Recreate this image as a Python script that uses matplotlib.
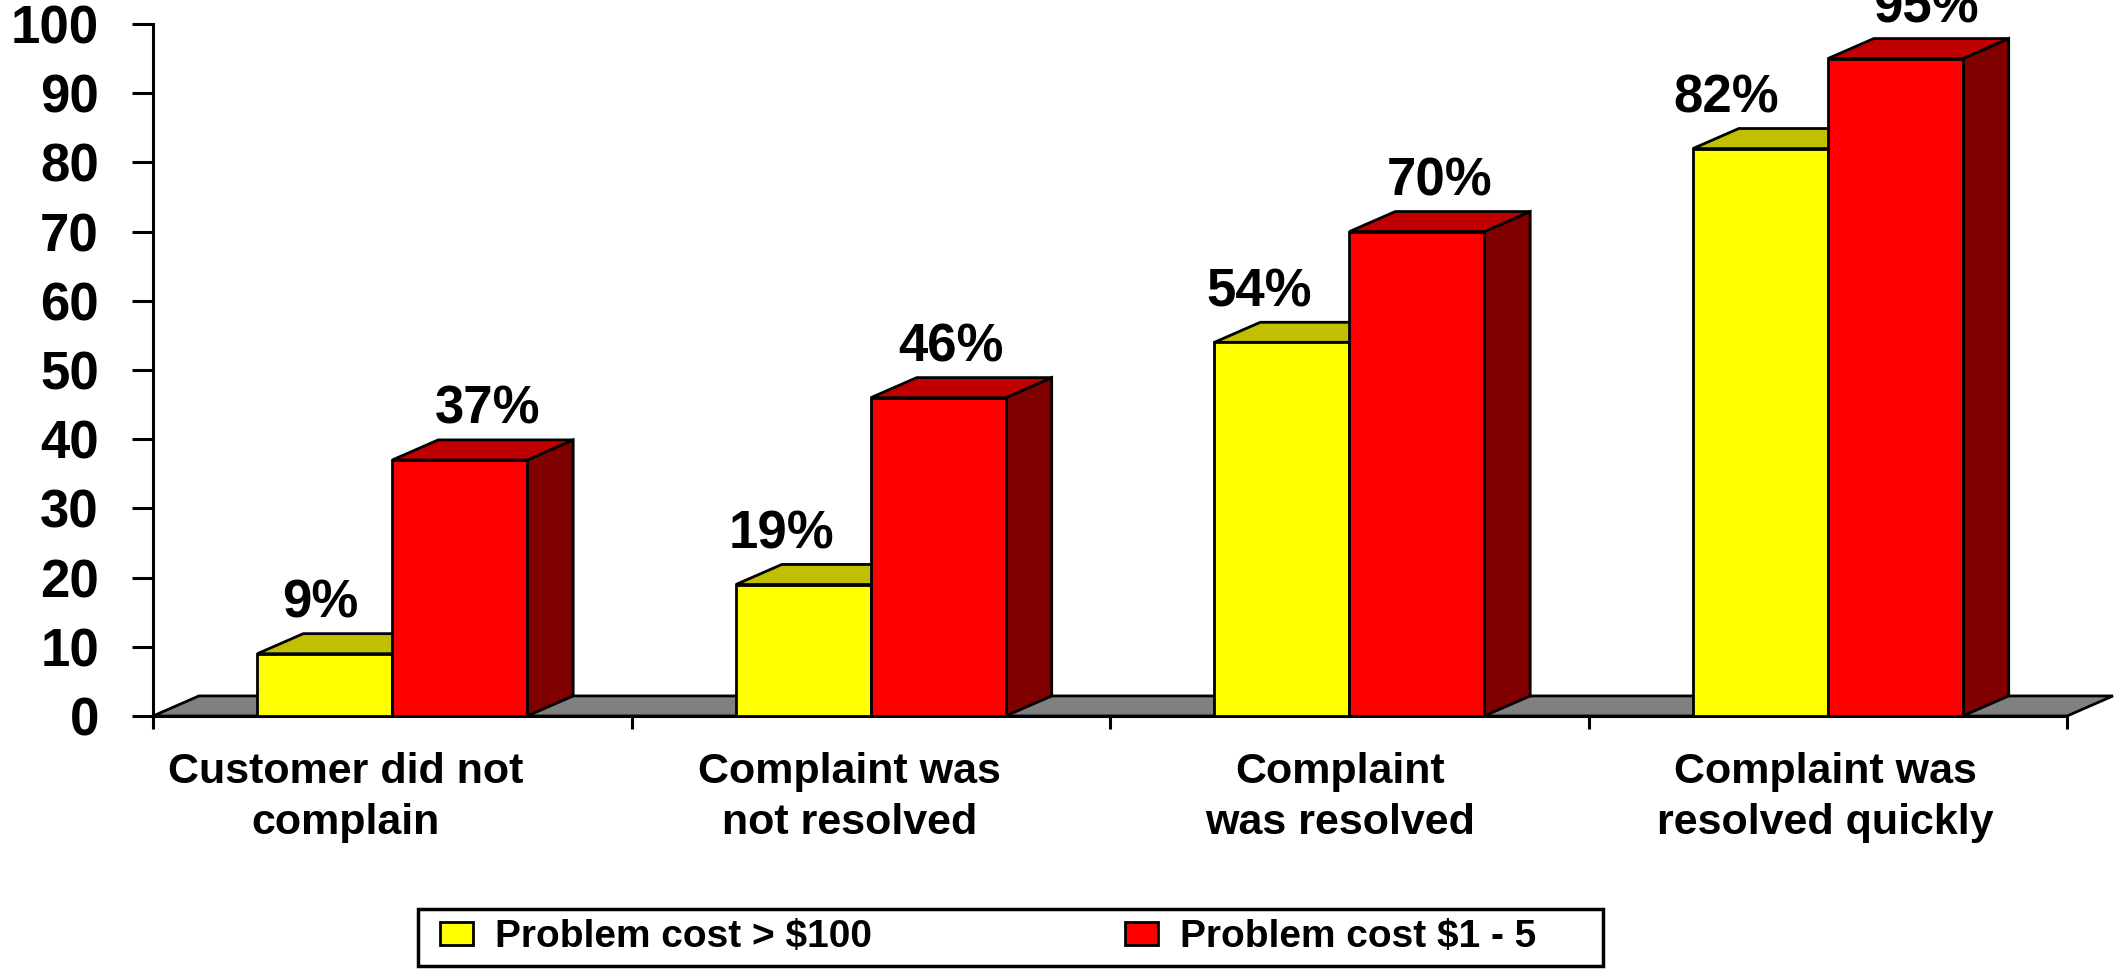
# 3d-looking grouped bars: complaint resolution vs problem cost

import matplotlib.pyplot as plt
from matplotlib.patches import Polygon, Rectangle, Patch
import numpy as np

plt.rcParams['font.family'] = ['Liberation Sans', 'DejaVu Sans']
plt.rcParams['font.weight'] = 'bold'

categories = ['Customer did not\ncomplain', 'Complaint was\nnot resolved',
              'Complaint\nwas resolved', 'Complaint was\nresolved quickly']
cost_high = [9, 19, 54, 82]     # Problem cost > $100
cost_low = [37, 46, 70, 95]     # Problem cost $1 - 5
series_names = ['Problem cost > $100', 'Problem cost $1 - 5']

# front, top, side colours
yellow = ('#FFFF00', '#C0C000', '#808000')
red = ('#FF0000', '#C00000', '#800000')

W = 0.282            # bar width (category units)
DX, DY = 0.096, 2.9  # depth offset
# the original's labels are not quite centred under the groups
cat_shift = [-0.098, -0.045, -0.02, -0.005]
lab_dx_high = [-28, -45, -46, -57]   # pixels
lab_dx_low = [5, -10, 0, 8]


def draw_box(ax, x0, h, cols):
    front, top, side = cols
    kw = dict(edgecolor='black', linewidth=2, clip_on=False, zorder=3,
              joinstyle='miter')
    ax.add_patch(Polygon([(x0 + W, 0), (x0 + W + DX, DY),
                          (x0 + W + DX, h + DY), (x0 + W, h)],
                         facecolor=side, **kw))
    ax.add_patch(Polygon([(x0, h), (x0 + W, h), (x0 + W + DX, h + DY),
                          (x0 + DX, h + DY)], facecolor=top, **kw))
    ax.add_patch(Rectangle((x0, 0), W, h, facecolor=front, **kw))


fig = plt.figure(figsize=(21.14, 9.69), dpi=100, facecolor='w')
ax = fig.add_axes([0.0724, 0.2611, 0.9054, 0.7141])
ax.set_xlim(-0.5, 3.5)
ax.set_ylim(0, 100)

# floor
ax.add_patch(Polygon([(-0.5, 0), (3.5, 0), (3.5 + DX, DY), (-0.5 + DX, DY)],
                     facecolor='#808080', edgecolor='black', linewidth=2,
                     clip_on=False, zorder=1))

x = np.arange(len(categories))
for i in x:
    draw_box(ax, i - W, cost_high[i], yellow)
    draw_box(ax, i, cost_low[i], red)
    ax.annotate(f'{cost_high[i]}%', (i - W / 2 + DX / 2, cost_high[i] + DY),
                xytext=(lab_dx_high[i], 30), textcoords='offset pixels',
                ha='center', va='center', fontsize=38, annotation_clip=False)
    ax.annotate(f'{cost_low[i]}%', (i + W / 2 + DX / 2, cost_low[i] + DY),
                xytext=(lab_dx_low[i], 30), textcoords='offset pixels',
                ha='center', va='center', fontsize=38, annotation_clip=False)

for s in ['top', 'right']:
    ax.spines[s].set_visible(False)
for s in ['left', 'bottom']:
    ax.spines[s].set_linewidth(2.2)

ax.set_yticks(np.arange(0, 101, 10))
ax.tick_params(axis='y', length=15, width=2.2, pad=24, labelsize=38)
ax.set_xticks(np.arange(-0.5, 3.6, 1.0))
ax.set_xticklabels([])
ax.tick_params(axis='x', which='major', length=9, width=2.2)
ax.set_xticks(x + np.array(cat_shift), categories, minor=True)
ax.tick_params(axis='x', which='minor', length=0, pad=26, labelsize=31)
for t in ax.get_xticklabels(minor=True):
    t.set_linespacing(1.35)

handles = [Patch(facecolor=yellow[0], edgecolor='black', linewidth=2),
           Patch(facecolor=red[0], edgecolor='black', linewidth=2)]
leg = fig.legend(handles, series_names, ncol=2, loc='lower left',
                 bbox_to_anchor=(430 / 2114, 4 / 969), borderaxespad=0,
                 fontsize=28, handlelength=0.85, handleheight=0.51,
                 handletextpad=0.57, columnspacing=6.5, borderpad=0.25,
                 frameon=False)
# legend box, a bit wider than the entries as in the original
fig.patches.append(Rectangle((418 / 2114, 3 / 969), 1185 / 2114, 57 / 969,
                             transform=fig.transFigure, fill=False,
                             edgecolor='black', linewidth=2.5))

plt.savefig('out.png', dpi=100, facecolor='w')
